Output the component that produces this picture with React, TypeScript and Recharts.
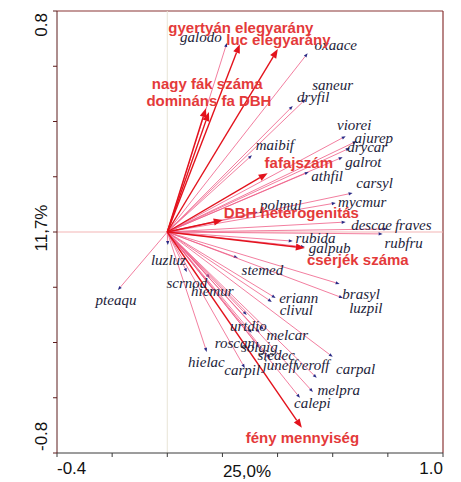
import React from "react";
import { ScatterChart, Scatter, XAxis, YAxis, ReferenceLine } from "recharts";

// axis ticks (only the end ones get a number)
const xTicks = [-0.4, -0.2, 0, 0.2, 0.4, 0.6, 0.8, 1.0];
const yTicks = [-0.8, -0.6, -0.4, -0.2, 0, 0.2, 0.4, 0.6, 0.8];
const xTitle = "25,0%";
const yTitle = "11,7%";

// species arrows (tip) and where their names sit
const speciesNames = [
  "galodo", "oxaace", "saneur", "dryfil", "viorei", "ajurep", "drycar", "galrot",
  "athfil", "maibif", "carsyl", "mycmur", "polmul", "descae", "fraves", "rubfru",
  "rubida", "galpub", "stemed", "brasyl", "luzpil", "eriann", "clivul", "luzluz",
  "pteaqu", "scrnod", "hiemur", "urtdio", "melcar", "roscan", "solgig", "siedec",
  "hielac", "carpil", "juneff", "veroff", "carpal", "melpra", "calepi",
];
const speciesX = [
  0.216, 0.509, 0.502, 0.455, 0.647, 0.687, 0.662, 0.636, 0.513, 0.307, 0.672, 0.611,
  0.328, 0.647, 0.799, 0.781, 0.455, 0.499, 0.256, 0.625, 0.637, 0.393, 0.379, 0.002,
  -0.179, 0.071, 0.154, 0.288, 0.35, 0.306, 0.335, 0.335, 0.143, 0.281, 0.372, 0.542,
  0.6, 0.528, 0.481,
];
const speciesY = [
  0.684, 0.647, 0.481, 0.456, 0.347, 0.329, 0.304, 0.271, 0.217, 0.278, 0.141, 0.105,
  0.072, 0.036, 0.011, -0.007, -0.033, -0.054, -0.094, -0.188, -0.239, -0.239, -0.253,
  -0.047, -0.21, -0.145, -0.166, -0.3, -0.354, -0.365, -0.365, -0.42, -0.434, -0.492,
  -0.456, -0.528, -0.452, -0.579, -0.6,
];
const speciesLabelX = [
  0.122, 0.611, 0.6, 0.529, 0.678, 0.749, 0.725, 0.711, 0.58, 0.39, 0.752, 0.707,
  0.412, 0.741, 0.892, 0.857, 0.538, 0.589, 0.345, 0.703, 0.72, 0.477, 0.468, 0.004,
  -0.186, 0.071, 0.163, 0.294, 0.435, 0.245, 0.334, 0.395, 0.142, 0.272, 0.408, 0.526,
  0.683, 0.622, 0.526,
];
const speciesLabelY = [
  0.705, 0.676, 0.532, 0.488, 0.387, 0.34, 0.307, 0.253, 0.203, 0.315, 0.177, 0.108,
  0.098, 0.025, 0.025, -0.04, -0.022, -0.058, -0.137, -0.224, -0.275, -0.239, -0.282,
  -0.101, -0.246, -0.184, -0.213, -0.34, -0.373, -0.401, -0.416, -0.445, -0.47, -0.499,
  -0.481, -0.481, -0.495, -0.571, -0.618,
];

// environmental variables
const envNames = [
  "gyertyán elegyarány", "luc elegyarány", "nagy fák száma", "domináns fa DBH",
  "fafajszám", "DBH heterogenitás", "cserjék száma", "fény mennyiség",
];
const envX = [0.263, 0.401, 0.14, 0.151, 0.364, 0.201, 0.499, 0.488];
const envY = [0.68, 0.662, 0.448, 0.434, 0.213, 0.043, -0.058, -0.709];
const envLabelX = [0.267, 0.403, 0.145, 0.151, 0.477, 0.45, 0.691, 0.49];
const envLabelY = [0.741, 0.698, 0.539, 0.477, 0.25, 0.072, -0.098, -0.745];

const speciesLabels = speciesNames.map((name, i) => ({
  name,
  x: speciesLabelX[i],
  y: speciesLabelY[i],
}));
const envLabels = envNames.map((name, i) => ({
  name,
  x: envLabelX[i],
  y: envLabelY[i],
}));

const SANS = "'Liberation Sans', Arial, sans-serif";
const SERIF = "'Liberation Serif', 'Times New Roman', serif";

function arrowShape(color: string, width: number, headLen: number, headW: number, headColor: string) {
  return (p: any) => {
    const { x1, y1, x2, y2 } = p;
    const dx = x2 - x1;
    const dy = y2 - y1;
    const len = Math.sqrt(dx * dx + dy * dy) || 1;
    const ux = dx / len;
    const uy = dy / len;
    const bx = x2 - ux * headLen;
    const by = y2 - uy * headLen;
    const pts = `${x2},${y2} ${bx - uy * headW},${by + ux * headW} ${bx + uy * headW},${by - ux * headW}`;
    return (
      <g>
        <line x1={x1} y1={y1} x2={bx} y2={by} stroke={color} strokeWidth={width} />
        <polygon points={pts} fill={headColor} />
      </g>
    );
  };
}

const speciesArrow = arrowShape("#ef5d86", 0.8, 4, 1.6, "#2a2a86");
const envArrow = arrowShape("#e3121c", 1.4, 9, 3.5, "#e3121c");

const XTick = (props: any) => {
  const { x, y, payload, index } = props;
  if (index !== 0 && index !== xTicks.length - 1) return <g />;
  return (
    <text x={x} y={y} dy="0.71em" textAnchor={index === 0 ? "start" : "end"}
      fontFamily={SANS} fontSize={17} fill="#111">
      {payload.value.toFixed(1)}
    </text>
  );
};

const YTick = (props: any) => {
  const { x, y, payload, index } = props;
  if (index !== 0 && index !== yTicks.length - 1) return <g />;
  // index 0 is -0.8 (bottom)
  return (
    <text x={x} y={index === 0 ? y - 2 : y + 2} transform={`rotate(-90 ${x} ${index === 0 ? y - 2 : y + 2})`}
      textAnchor={index === 0 ? "start" : "end"} fontFamily={SANS} fontSize={17} fill="#111">
      {payload.value.toFixed(1)}
    </text>
  );
};

export default function App() {
  return (
    <div style={{ position: "absolute", left: 0, top: 0, background: "#fff" }}>
      <ScatterChart width={461} height={482} margin={{ top: 11, right: 18, bottom: 0, left: 0 }}>
        <XAxis
          type="number"
          dataKey="x"
          domain={[-0.4, 1.0]}
          ticks={xTicks}
          allowDataOverflow
          height={29}
          tickSize={4}
          tickMargin={5}
          tick={XTick}
          axisLine={{ stroke: "#3a3a3a" }}
          tickLine={{ stroke: "#3a3a3a" }}
          label={{
            content: (p: any) => {
              const vb = p.viewBox || { x: 57, y: 453, width: 386, height: 29 };
              return (
                <text x={vb.x + vb.width / 2 - 3} y={vb.y + vb.height - 5} textAnchor="middle"
                  fontFamily={SANS} fontSize={17} fill="#111">
                  {xTitle}
                </text>
              );
            },
          }}
        />
        <YAxis
          type="number"
          dataKey="y"
          domain={[-0.8, 0.8]}
          ticks={yTicks}
          allowDataOverflow
          width={57}
          tickSize={4}
          tickMargin={6}
          tick={YTick}
          axisLine={{ stroke: "#5c1c1c" }}
          tickLine={{ stroke: "#5c1c1c" }}
          label={{
            content: (p: any) => {
              const vb = p.viewBox || { x: 0, y: 11, width: 57, height: 442 };
              const cx = vb.x + vb.width - 10;
              const cy = vb.y + vb.height / 2 - 4;
              return (
                <text x={cx} y={cy} transform={`rotate(-90 ${cx} ${cy})`} textAnchor="middle"
                  fontFamily={SANS} fontSize={17} fill="#111">
                  {yTitle}
                </text>
              );
            },
          }}
        />
        {/* frame + zero lines */}
        <ReferenceLine y={0.8} stroke="#8a3434" strokeWidth={1.2} />
        <ReferenceLine x={1.0} stroke="#8a3434" strokeWidth={1.2} />
        <ReferenceLine x={0} stroke="#e9e4d6" strokeWidth={1} />
        <ReferenceLine y={0} stroke="#f3b5b5" strokeWidth={1.2} />

        {speciesNames.map((n, i) => (
          <ReferenceLine
            key={"s" + n}
            segment={[{ x: 0, y: 0 }, { x: speciesX[i], y: speciesY[i] }]}
            shape={speciesArrow}
          />
        ))}
        {envNames.map((n, i) => (
          <ReferenceLine
            key={"e" + n}
            segment={[{ x: 0, y: 0 }, { x: envX[i], y: envY[i] }]}
            shape={envArrow}
          />
        ))}

        <Scatter
          data={speciesLabels}
          isAnimationActive={false}
          shape={(p: any) => (
            <text x={p.cx} y={p.cy} textAnchor="middle" dominantBaseline="central"
              fontFamily={SERIF} fontStyle="italic" fontSize={15} fill="#1d1d3a">
              {p.payload.name}
            </text>
          )}
        />
        <Scatter
          data={envLabels}
          isAnimationActive={false}
          shape={(p: any) => (
            <text x={p.cx} y={p.cy} textAnchor="middle" dominantBaseline="central"
              fontFamily={SANS} fontWeight="bold" fontSize={15} fill="#e43a3a">
              {p.payload.name}
            </text>
          )}
        />
      </ScatterChart>
    </div>
  );
}
